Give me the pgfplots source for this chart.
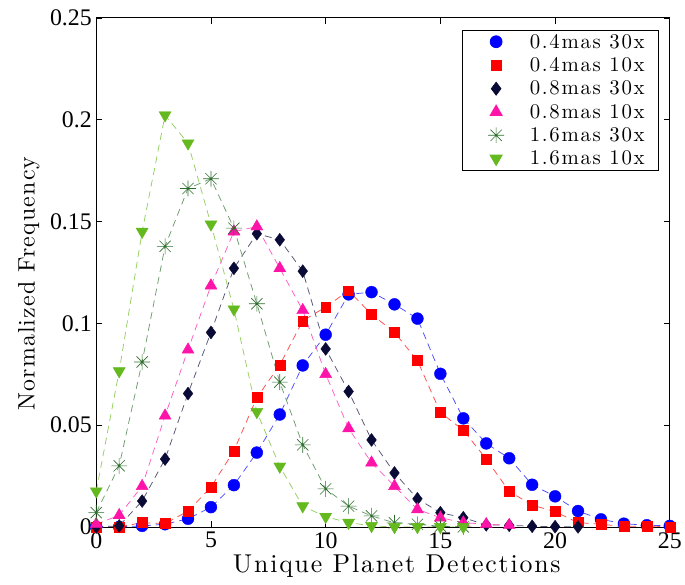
\documentclass[border=0pt]{standalone}
\usepackage{fontspec}
\usepackage{pgfplots}
\pgfplotsset{compat=1.18}
\newfontfamily\tickfont{Liberation Serif}
\newfontfamily\labfontx[Extension=.otf,LetterSpace=7]{lmroman10-regular}
\newfontfamily\labfonty[Extension=.otf,LetterSpace=5]{lmroman10-regular}
\newfontfamily\legfont[Extension=.otf,LetterSpace=8]{lmroman10-regular}
\definecolor{cblue}{RGB}{0,0,255}
\definecolor{cred}{RGB}{255,0,0}
\definecolor{cnavy}{RGB}{10,10,55}
\definecolor{cpink}{RGB}{255,20,170}
\definecolor{cstar}{RGB}{45,110,45}
\definecolor{cgreen}{RGB}{100,185,30}
\pgfdeclareplotmark{mstar}{%
  \pgfpathmoveto{\pgfqpoint{-\pgfplotmarksize}{0pt}}\pgfpathlineto{\pgfqpoint{\pgfplotmarksize}{0pt}}%
  \pgfpathmoveto{\pgfqpoint{0pt}{-\pgfplotmarksize}}\pgfpathlineto{\pgfqpoint{0pt}{\pgfplotmarksize}}%
  \pgfpathmoveto{\pgfqpoint{-0.707\pgfplotmarksize}{-0.707\pgfplotmarksize}}\pgfpathlineto{\pgfqpoint{0.707\pgfplotmarksize}{0.707\pgfplotmarksize}}%
  \pgfpathmoveto{\pgfqpoint{-0.707\pgfplotmarksize}{0.707\pgfplotmarksize}}\pgfpathlineto{\pgfqpoint{0.707\pgfplotmarksize}{-0.707\pgfplotmarksize}}%
  \pgfusepathqstroke}
\pgfplotstableread{
x y
0 0
1 0
2 0.0005
3 0.0013
4 0.0040
5 0.0097
6 0.0205
7 0.0365
8 0.0552
9 0.0793
10 0.0944
11 0.1142
12 0.1153
13 0.1093
14 0.1023
15 0.0752
16 0.0533
17 0.0410
18 0.0337
19 0.0207
20 0.0150
21 0.0078
22 0.0037
23 0.0016
24 0.0008
25 0.0005
}\blue
\pgfplotstableread{
x y
0 0
1 0
2 0.0021
3 0.0016
4 0.0078
5 0.0195
6 0.0374
7 0.0635
8 0.0795
9 0.1012
10 0.1080
11 0.1160
12 0.1044
13 0.0955
14 0.0817
15 0.0562
16 0.0475
17 0.0333
18 0.0175
19 0.0107
20 0.0075
21 0.0021
22 0.0013
23 0.0002
24 0.0005
25 0
}\red
\pgfplotstableread{
x y
0 0
1 0.0005
2 0.0127
3 0.0333
4 0.0655
5 0.0955
6 0.1270
7 0.1440
8 0.1410
9 0.1256
10 0.0874
11 0.0665
12 0.0427
13 0.0265
14 0.0138
15 0.0070
16 0.0045
17 0.0010
18 0.0008
19 0.0003
20 0.0001
21 0
}\navy
\pgfplotstableread{
x y
0 0.0013
1 0.0057
2 0.0200
3 0.0546
4 0.0870
5 0.1185
6 0.1450
7 0.1475
8 0.1270
9 0.1064
10 0.0750
11 0.0484
12 0.0315
13 0.0200
14 0.0086
15 0.0045
16 0.0021
17 0.0013
18 0.0008
}\pink
\pgfplotstableread{
x y
0 0.0070
1 0.0300
2 0.0810
3 0.1378
4 0.1662
5 0.1710
6 0.1467
7 0.1096
8 0.0711
9 0.0403
10 0.0187
11 0.0102
12 0.0054
13 0.0020
14 0.0013
15 0.0003
16 0
}\star
\pgfplotstableread{
x y
0 0.0175
1 0.0765
2 0.1450
3 0.2022
4 0.1884
5 0.1486
6 0.1069
7 0.0565
8 0.0297
9 0.0102
10 0.0050
11 0.0021
12 0.0005
13 0
14 0
15 0
16 0
}\green
\begin{document}
\begin{tikzpicture}
\begin{axis}[
  width=578pt, height=513pt, scale only axis,
  xmin=0, xmax=25, ymin=0, ymax=0.25,
  xtick={0,5,10,15,20,25},
  xticklabels={0,5,10,15,20,25},
  ytick={0,0.05,0.1,0.15,0.2,0.25},
  yticklabels={0,0.05,0.1,0.15,0.2,0.25},
  tick align=inside, major tick length=6pt,
  tick label style={font=\tickfont\fontsize{24}{24}\selectfont},
  xticklabel style={yshift=-2pt},
  yticklabel style={xshift=-1pt},
  axis line style={line width=0.8pt},
  every tick/.style={black, line width=0.6pt},
  xlabel={Unique Planet Detections},
  ylabel={Normalized Frequency},
  xlabel style={font=\labfontx\fontsize{26}{26}\selectfont, at={(axis description cs:0.524,0)}, anchor=center, yshift=-39pt},
  ylabel style={font=\labfonty\fontsize{24}{24}\selectfont, at={(axis description cs:-0.1176,0.478)}, anchor=center},
  legend style={at={(0.981,0.977)}, anchor=north east, draw=black, line width=0.8pt,
    font=\legfont\fontsize{21}{21}\selectfont, row sep=6pt, inner xsep=13pt, inner ysep=3pt,
    nodes={inner sep=1pt}},
  legend cell align=left,
  legend image code/.code={\path[draw=none,fill=none] (-21pt,0pt) -- (33pt,0pt); \path[#1] plot coordinates {(0pt,0pt)};},
]
\addplot[cblue!70, dashed, line width=0.75pt, dash pattern=on 7pt off 5pt, forget plot] table {\blue};
\addplot[only marks, mark=*, mark size=6pt, cblue, fill=cblue] table {\blue};
\addlegendentry{0.4mas 30x}
\addplot[cred!70, dashed, line width=0.75pt, dash pattern=on 7pt off 5pt, forget plot] table {\red};
\addplot[only marks, mark=square*, mark size=5pt, cred, fill=cred] table {\red};
\addlegendentry{0.4mas 10x}
\addplot[cnavy!70, dashed, line width=0.75pt, dash pattern=on 7pt off 5pt, forget plot] table {\navy};
\addplot[only marks, mark=diamond*, mark size=6.5pt, cnavy, fill=cnavy] table {\navy};
\addlegendentry{0.8mas 30x}
\addplot[cpink!70, dashed, line width=0.75pt, dash pattern=on 7pt off 5pt, forget plot] table {\pink};
\addplot[only marks, mark=triangle*, mark size=7pt, cpink, fill=cpink] table {\pink};
\addlegendentry{0.8mas 10x}
\addplot[cstar!70, dashed, line width=0.75pt, dash pattern=on 7pt off 5pt, forget plot] table {\star};
\addplot[only marks, mark=mstar, mark size=8pt, cstar, line width=0.6pt] table {\star};
\addlegendentry{1.6mas 30x}
\addplot[cgreen!70, dashed, line width=0.75pt, dash pattern=on 7pt off 5pt, forget plot] table {\green};
\addplot[only marks, mark=triangle*, mark size=7pt, mark options={rotate=180}, cgreen, fill=cgreen] table {\green};
\addlegendentry{1.6mas 10x}
\end{axis}
\path ([xshift=-97pt,yshift=-58pt]current axis.south west) rectangle ([xshift=10pt,yshift=18pt]current axis.north east);
\end{tikzpicture}
\end{document}
